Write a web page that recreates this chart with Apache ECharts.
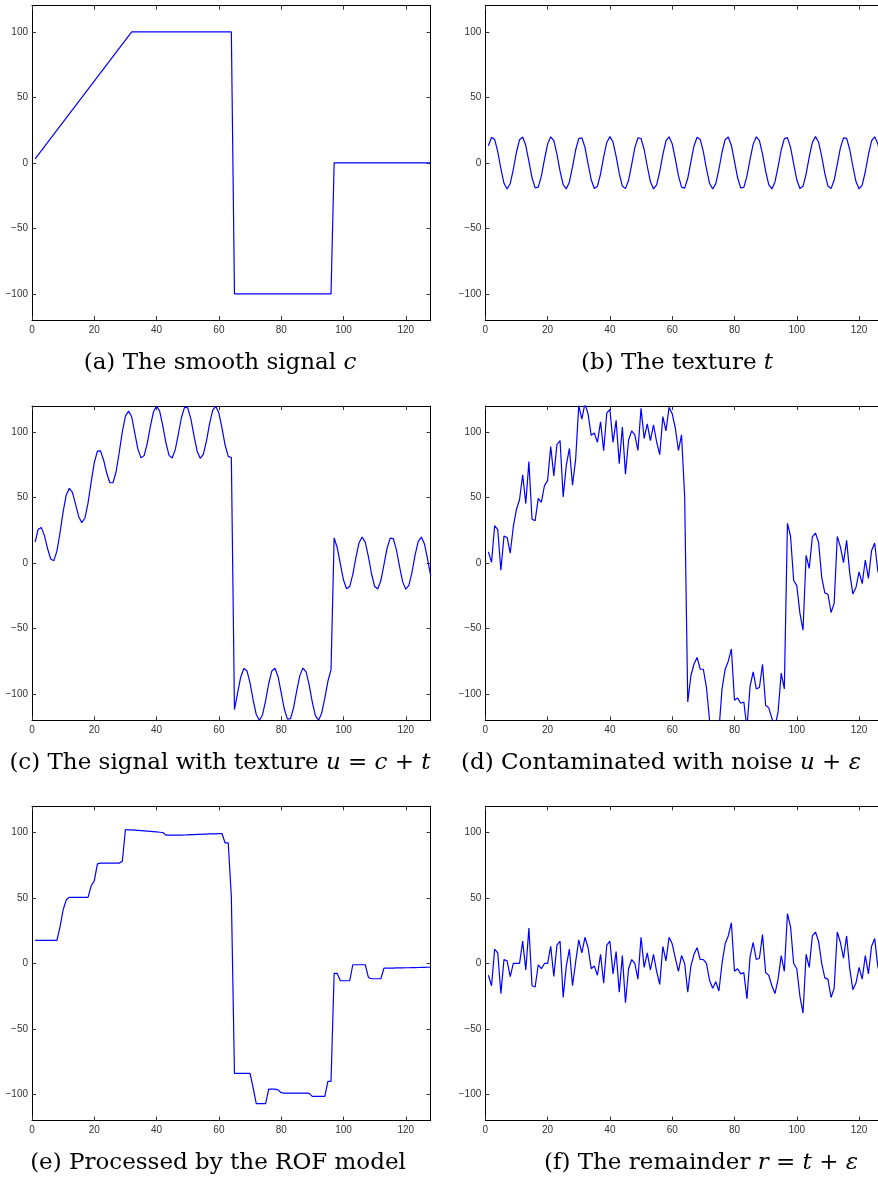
<!DOCTYPE html>
<html>
<head>
<meta charset="utf-8">
<script src="https://cdn.jsdelivr.net/npm/echarts@6/dist/echarts.min.js"></script>
<style>
  html, body { margin: 0; padding: 0; background: #fff; overflow: hidden; }
  #chart { width: 878px; height: 1180px; }
</style>
</head>
<body>
<div id="chart"></div>
<script>
// tick values shared by every panel
const xTicks = [0, 20, 40, 60, 80, 100, 120]
const yTicks = [-100, -50, 0, 50, 100]

// (a) smooth signal c -- breakpoints
const smoothSignal = [[1, 3.1], [32, 100], [64, 100], [65, -100], [96, -100], [97, 0], [128, 0]]

// (b) texture t, samples 1..128
const texture = [
  13.0, 19.6, 17.9, 8.5, -4.5, -15.6, -20.0, -15.8, -4.9, 8.1,
  17.7, 19.7, 13.2, 1.1, -11.4, -19.1, -18.6, -10.2, 2.6, 14.3,
  19.9, 16.9, 6.7, -6.4, -16.7, -19.9, -14.6, -3.0, 9.8, 18.5,
  19.2, 11.8, -0.7, -12.9, -19.6, -17.9, -8.5, 4.5, 15.6, 20.0,
  15.9, 4.9, -8.1, -17.7, -19.7, -13.3, -1.2, 11.4, 19.1, 18.6,
  10.2, -2.6, -14.3, -19.9, -16.9, -6.8, 6.3, 16.7, 19.9, 14.6,
  3.1, -9.8, -18.5, -19.3, -11.8, 0.7, 12.9, 19.6, 17.9, 8.5,
  -4.5, -15.6, -20.0, -15.9, -4.9, 8.1, 17.7, 19.7, 13.3, 1.2,
  -11.4, -19.1, -18.7, -10.2, 2.6, 14.3, 19.9, 17.0, 6.8, -6.3,
  -16.7, -19.9, -14.6, -3.1, 9.8, 18.5, 19.3, 11.8, -0.7, -12.9,
  -19.6, -17.9, -8.5, 4.5, 15.6, 20.0, 15.9, 5.0, -8.1, -17.7,
  -19.7, -13.3, -1.2, 11.4, 19.1, 18.7, 10.2, -2.6, -14.3, -19.9,
  -17.0, -6.8, 6.3, 16.7, 19.9, 14.7, 3.1, -9.8
]

// (c) signal with texture u = c + t
const textured = [
  16.1, 25.9, 27.3, 21.0, 11.1, 3.2, 1.9, 9.2, 23.2, 39.4,
  52.1, 57.2, 53.8, 44.9, 35.5, 30.9, 34.5, 46.1, 62.0, 76.8,
  85.5, 85.7, 78.6, 68.6, 61.4, 61.4, 69.8, 84.5, 100.4, 112.3,
  116.1, 111.8, 99.3, 87.1, 80.4, 82.1, 91.5, 104.5, 115.6, 120.0,
  115.9, 104.9, 91.9, 82.3, 80.3, 86.7, 98.8, 111.4, 119.1, 118.6,
  110.2, 97.4, 85.7, 80.1, 83.1, 93.2, 106.3, 116.7, 119.9, 114.6,
  103.1, 90.2, 81.5, 80.7, -111.8, -99.3, -87.1, -80.4, -82.1, -91.5,
  -104.5, -115.6, -120.0, -115.9, -104.9, -91.9, -82.3, -80.3, -86.7, -98.8,
  -111.4, -119.1, -118.7, -110.2, -97.4, -85.7, -80.1, -83.0, -93.2, -106.3,
  -116.7, -119.9, -114.6, -103.1, -90.2, -81.5, 19.3, 11.8, -0.7, -12.9,
  -19.6, -17.9, -8.5, 4.5, 15.6, 20.0, 15.9, 5.0, -8.1, -17.7,
  -19.7, -13.3, -1.2, 11.4, 19.1, 18.7, 10.2, -2.6, -14.3, -19.9,
  -17.0, -6.8, 6.3, 16.7, 19.9, 14.7, 3.1, -9.8
]

// (d) contaminated with noise u + eps
const noisy = [
  8.6, 0.6, 28.6, 25.6, -5.4, 20.6, 19.6, 7.6, 28, 41,
  48.6, 67.5, 45.5, 77.5, 33.5, 32.5, 49.5, 46.5, 59.3, 63,
  89, 66.6, 90.6, 93.6, 50.6, 74.6, 87.6, 59.6, 79, 120.3,
  110, 122, 113.8, 97.6, 99.4, 92.2, 108, 85.8, 114.6, 117.4,
  92.2, 109, 76, 104, 68, 94, 101, 98, 86.1, 118.2,
  95.3, 106.4, 93.5, 105.6, 92.7, 82.8, 111.9, 101, 119, 114.1,
  103.2, 86, 98, 51, -106, -86, -77, -72, -81, -81,
  -95, -120, -126, -121, -128, -96, -81, -75, -65.5, -104.7,
  -103, -107, -106, -126, -94, -83, -96, -95, -77.2, -108.5,
  -110.5, -118.5, -124.5, -113.5, -84, -96, 30.4, 20.4, -13.2, -17.2,
  -38.2, -51.2, 6, -4, 20, 23, 16, -10.7, -22.7, -23.7,
  -37.7, -30.7, 20.4, 12.4, 0.4, 17.4, -7.6, -23.6, -18.6, -6.6,
  -15.6, 2.4, -11.6, 9.4, 15.4, -5.6, -15, -23
]

// (e) processed by the ROF model
const rofOutput = [
  17.6, 17.6, 17.6, 17.6, 17.6, 17.6, 17.6, 17.6, 28, 41,
  48.6, 50.5, 50.5, 50.5, 50.5, 50.5, 50.5, 50.5, 59.3, 63,
  76, 76.6, 76.6, 76.6, 76.6, 76.6, 76.6, 76.6, 78, 102.3,
  102, 102, 101.8, 101.6, 101.4, 101.2, 101, 100.8, 100.6, 100.4,
  100.2, 100, 98, 98, 98, 98, 98, 98, 98.1, 98.2,
  98.3, 98.4, 98.5, 98.6, 98.7, 98.8, 98.9, 99, 99, 99.1,
  99.2, 92, 92, 51, -84, -84, -84, -84, -84, -84,
  -95, -107, -107, -107, -107, -96, -96, -96, -96.5, -98.7,
  -99, -99, -99, -99, -99, -99, -99, -99, -99.2, -101.5,
  -101.5, -101.5, -101.5, -101.5, -90, -90, -7.6, -7.6, -13.2, -13.2,
  -13.2, -13.2, -1, -1, -1, -1, -1, -10.7, -11.7, -11.7,
  -11.7, -11.7, -3.6, -3.5, -3.5, -3.5, -3.4, -3.4, -3.4, -3.3,
  -3.3, -3.2, -3.2, -3.1, -3.0, -3.0, -2.9, -2.8
]

// (f) remainder r = t + eps
const remainder = [
  -9, -17, 11, 8, -23, 3, 2, -10, 0, 0,
  0, 17, -5, 27, -17, -18, -1, -4, 0, 0,
  13, -10, 14, 17, -26, -2, 11, -17, 1, 18,
  8, 20, 12, -4, -2, -9, 7, -15, 14, 17,
  -8, 9, -22, 6, -30, -4, 3, 0, -12, 20,
  -3, 8, -5, 7, -6, -16, 13, 2, 20, 15,
  4, -6, 6, 0, -22, -2, 7, 12, 3, 3,
  0, -13, -19, -14, -21, 0, 15, 21, 31, -6,
  -4, -8, -7, -27, 5, 16, 3, 4, 22, -7,
  -9, -17, -23, -12, 6, -6, 38, 28, 0, -4,
  -25, -38, 7, -3, 21, 24, 17, 0, -11, -12,
  -26, -19, 24, 16, 4, 21, -4, -20, -15, -3,
  -12, 6, -8, 13, 19, -2, -12, -20
]

// captions: [text, italic]
const captions = [
  [['(a) The smooth signal ', false], ['c', true]],
  [['(b) The texture ', false], ['t', true]],
  [['(c) The signal with texture ', false], ['u', true], [' = ', false], ['c', true], [' + ', false], ['t', true]],
  [['(d) Contaminated with noise ', false], ['u', true], [' + ', false], ['ε', true]],
  [['(e) Processed by the ROF model', false]],
  [['(f) The remainder ', false], ['r', true], [' = ', false], ['t', true], [' + ', false], ['ε', true]]
]

const chart = echarts.init(document.getElementById('chart'))

const panelW = 398.7
const panelH = 314.3
const lefts = [32, 485.3]
const tops = [5.7, 406, 806.3]
const captionX = [220, 677, 220, 661, 218, 701]
const captionY = [363, 363, 763, 763, 1163, 1163]

const seriesData = [
  smoothSignal,
  texture.map((v, i) => [i + 1, v]),
  textured.map((v, i) => [i + 1, v]),
  noisy.map((v, i) => [i + 1, v]),
  rofOutput.map((v, i) => [i + 1, v]),
  remainder.map((v, i) => [i + 1, v])
]

const grids = []
const xAxes = []
const yAxes = []
const series = []

const lineStyle = { color: '#000', width: 1 }
const tickStyle = { color: '#333', width: 1 }
const labelStyle = { fontFamily: 'Liberation Sans, Arial, sans-serif', fontSize: 10, color: '#333' }

for (let p = 0; p < 6; p++) {
  grids.push({
    left: lefts[p % 2],
    top: tops[Math.floor(p / 2)],
    width: panelW,
    height: panelH,
    containLabel: false,
    outerBoundsMode: 'none'
  })
  const xBase = {
    gridIndex: p, type: 'value', min: 0, max: 128,
    splitLine: { show: false },
    axisLine: { show: true, onZero: false, lineStyle }
  }
  xAxes.push(Object.assign({}, xBase, {
    position: 'bottom',
    axisTick: { show: true, inside: true, length: 4, customValues: xTicks, lineStyle: tickStyle },
    axisLabel: Object.assign({ show: true, margin: 5, customValues: xTicks }, labelStyle)
  }))
  xAxes.push(Object.assign({}, xBase, {
    position: 'top',
    axisTick: { show: true, inside: true, length: 4, customValues: xTicks, lineStyle: tickStyle },
    axisLabel: { show: false }
  }))
  const yBase = {
    gridIndex: p, type: 'value', min: -120, max: 120,
    splitLine: { show: false },
    axisLine: { show: true, onZero: false, lineStyle }
  }
  yAxes.push(Object.assign({}, yBase, {
    position: 'left',
    axisTick: { show: true, inside: true, length: 4, customValues: yTicks, lineStyle: tickStyle },
    axisLabel: Object.assign({
      show: true, margin: 4, customValues: yTicks,
      formatter: v => String(v).replace('-', '\u2212')
    }, labelStyle)
  }))
  yAxes.push(Object.assign({}, yBase, {
    position: 'right',
    axisTick: { show: true, inside: true, length: 4, customValues: yTicks, lineStyle: tickStyle },
    axisLabel: { show: false }
  }))
  series.push({
    type: 'line',
    xAxisIndex: p * 2,
    yAxisIndex: p * 2,
    data: seriesData[p],
    showSymbol: false,
    symbol: 'none',
    clip: true,
    animation: false,
    lineStyle: { color: '#0000ff', width: 1.2 }
  })
}

const rich = {
  n: { fontFamily: 'DejaVu Serif', fontSize: 23, color: '#000' },
  i: { fontFamily: 'DejaVu Serif', fontStyle: 'italic', fontSize: 23, color: '#000' }
}

const graphics = captions.map((parts, k) => ({
  type: 'text',
  x: captionX[k],
  y: captionY[k],
  style: {
    text: parts.map(([t, it]) => '{' + (it ? 'i' : 'n') + '|' + t + '}').join(''),
    rich,
    textAlign: 'center',
    textVerticalAlign: 'middle',
    align: 'center',
    verticalAlign: 'middle'
  }
}))

chart.setOption({
  animation: false,
  backgroundColor: '#fff',
  grid: grids,
  xAxis: xAxes,
  yAxis: yAxes,
  series,
  graphic: graphics
})
</script>
</body>
</html>
